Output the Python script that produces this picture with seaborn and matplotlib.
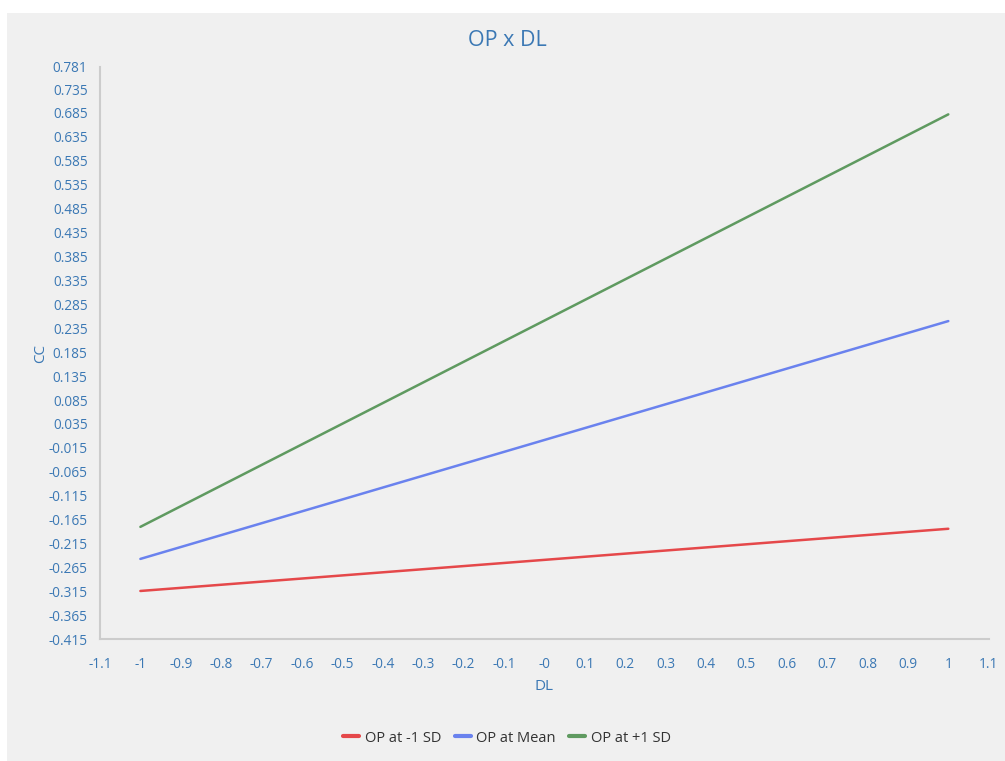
import numpy as np
import pandas as pd
import matplotlib
matplotlib.use("Agg")
import matplotlib.pyplot as plt
import seaborn as sns
from matplotlib.patches import Rectangle
from matplotlib.lines import Line2D

# ---- data ----
dl_values = [-1.0, 1.0]
series_names = ["OP at -1 SD", "OP at Mean", "OP at +1 SD"]
cc_low = [-0.314, -0.184]
cc_mean = [-0.247, 0.250]
cc_high = [-0.180, 0.682]
series_colors = ["#e5484a", "#6a82ee", "#5f9a60"]

x_tick_values = [-1.1, -1.0, -0.9, -0.8, -0.7, -0.6, -0.5, -0.4, -0.3, -0.2, -0.1,
                 0.0, 0.1, 0.2, 0.3, 0.4, 0.5, 0.6, 0.7, 0.8, 0.9, 1.0, 1.1]
x_tick_labels = ["-1.1", "-1", "-0.9", "-0.8", "-0.7", "-0.6", "-0.5", "-0.4", "-0.3",
                 "-0.2", "-0.1", "-0", "0.1", "0.2", "0.3", "0.4", "0.5", "0.6", "0.7",
                 "0.8", "0.9", "1", "1.1"]
y_tick_labels = ["-0.415", "-0.365", "-0.315", "-0.265", "-0.215", "-0.165", "-0.115",
                 "-0.065", "-0.015", "0.035", "0.085", "0.135", "0.185", "0.235", "0.285",
                 "0.335", "0.385", "0.435", "0.485", "0.535", "0.585", "0.635", "0.685",
                 "0.735", "0.781"]
y_tick_values = [float(s) for s in y_tick_labels]

df = pd.DataFrame({
    "DL": dl_values * 3,
    "CC": cc_low + cc_mean + cc_high,
    "series": [s for s in series_names for _ in dl_values],
})

# ---- style ----
sns.set_theme(style="white")
plt.rcParams["font.family"] = ["Open Sans", "DejaVu Sans"]
text_color = "#3b78b4"
panel_color = "#f0f0f0"
axis_color = "#cccccc"

fig = plt.figure(figsize=(10.05, 7.61), dpi=100)
fig.patch.set_facecolor("white")
fig.patches.append(Rectangle((7 / 1005, 0), 1 - 7 / 1005, 1 - 13 / 761,
                             transform=fig.transFigure, facecolor=panel_color,
                             edgecolor="none", zorder=-10))

ax = fig.add_axes([100 / 1005, 1 - 639.3 / 761, (988.7 - 100) / 1005, (639.3 - 67) / 761])
ax.set_facecolor(panel_color)

sns.lineplot(data=df, x="DL", y="CC", hue="series", hue_order=series_names,
             palette=series_colors, linewidth=1.8, ax=ax, legend=False)

ax.set_xlim(-1.1, 1.1)
ax.set_ylim(-0.415, 0.781)
ax.set_xticks(x_tick_values)
ax.set_xticklabels(x_tick_labels)
ax.set_yticks(y_tick_values)
ax.set_yticklabels(y_tick_labels)

for side in ["top", "right"]:
    ax.spines[side].set_visible(False)
for side in ["left", "bottom"]:
    ax.spines[side].set_color(axis_color)
    ax.spines[side].set_linewidth(1.5)

ax.tick_params(axis="both", which="major", direction="out", color=axis_color,
               width=1.5, labelcolor=text_color, labelsize=9.8)
ax.tick_params(axis="y", length=6, pad=3)
ax.tick_params(axis="x", length=7, pad=6)

ax.set_xlabel("DL", color=text_color, fontsize=11, labelpad=5)
ax.set_ylabel("CC", color=text_color, fontsize=11, labelpad=0)

fig.text(507 / 1005, 1 - 41 / 761, "OP x DL", ha="center", va="center",
         color=text_color, fontsize=15.5)

handles = [Line2D([0], [0], color=c, linewidth=3) for c in series_colors]
fig.legend(handles, series_names, loc="center", bbox_to_anchor=(507 / 1005, 1 - 738 / 761),
           ncol=3, frameon=False, fontsize=10.5, handlelength=1.1, handletextpad=0.4,
           columnspacing=0.9, labelcolor="#333333")

fig.savefig("out.png", dpi=100)
